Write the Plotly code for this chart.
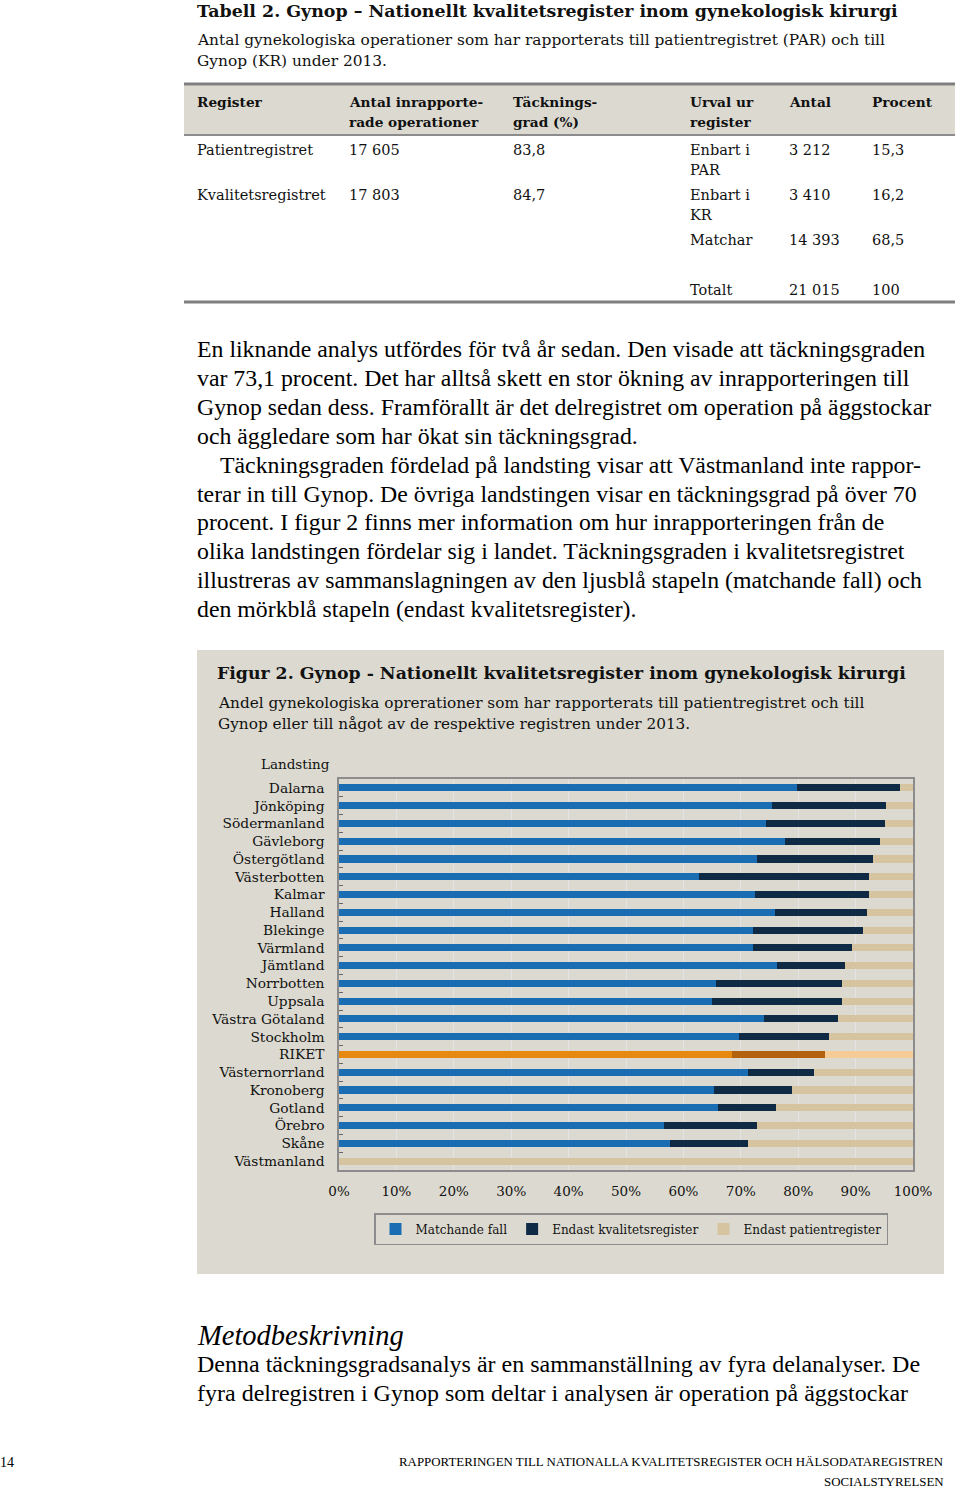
import plotly.graph_objects as go

W, H = 960, 1490

# ---------------- data ----------------
landsting = ["Dalarna", "Jönköping", "Södermanland", "Gävleborg", "Östergötland",
             "Västerbotten", "Kalmar", "Halland", "Blekinge", "Värmland", "Jämtland",
             "Norrbotten", "Uppsala", "Västra Götaland", "Stockholm", "RIKET",
             "Västernorrland", "Kronoberg", "Gotland", "Örebro", "Skåne", "Västmanland"]
matchande = [79.8, 75.5, 74.4, 77.7, 72.9, 62.8, 72.4, 76.0, 72.2, 72.2, 76.3,
             65.7, 65.0, 74.0, 69.6, 68.5, 71.2, 65.3, 66.0, 56.6, 57.6, 0.0]
endast_kr = [17.9, 19.8, 20.8, 16.6, 20.2, 29.5, 19.9, 15.9, 19.1, 17.1, 11.9,
             22.0, 22.7, 13.0, 15.8, 16.2, 11.6, 13.7, 10.2, 16.2, 13.7, 0.0]
endast_par = [2.3, 4.7, 4.8, 5.7, 6.9, 7.7, 7.7, 8.1, 8.7, 10.7, 11.8,
              12.3, 12.3, 13.0, 14.6, 15.3, 17.2, 21.0, 23.8, 27.2, 28.7, 100.0]
series_names = ["Matchande fall", "Endast kvalitetsregister", "Endast patientregister"]
x_ticks = [0, 10, 20, 30, 40, 50, 60, 70, 80, 90, 100]
x_tick_labels = ["0%", "10%", "20%", "30%", "40%", "50%", "60%", "70%", "80%", "90%", "100%"]

table_header = [["Register", ""], ["Antal inrapporte-", "rade operationer"], ["Täcknings-", "grad (%)"],
                ["Urval ur", "register"], ["Antal", ""], ["Procent", ""]]
table_rows = [
    ["Patientregistret", "17 605", "83,8", "Enbart i\nPAR", "3 212", "15,3"],
    ["Kvalitetsregistret", "17 803", "84,7", "Enbart i\nKR", "3 410", "16,2"],
    ["", "", "", "Matchar", "14 393", "68,5"],
    ["", "", "", "Totalt", "21 015", "100"],
]

para_lines = [
    "En liknande analys utfördes för två år sedan. Den visade att täckningsgraden",
    "var 73,1 procent. Det har alltså skett en stor ökning av inrapporteringen till",
    "Gynop sedan dess. Framförallt är det delregistret om operation på äggstockar",
    "och äggledare som har ökat sin täckningsgrad.",
    "Täckningsgraden fördelad på landsting visar att Västmanland inte rappor-",
    "terar in till Gynop. De övriga landstingen visar en täckningsgrad på över 70",
    "procent. I figur 2 finns mer information om hur inrapporteringen från de",
    "olika landstingen fördelar sig i landet. Täckningsgraden i kvalitetsregistret",
    "illustreras av sammanslagningen av den ljusblå stapeln (matchande fall) och",
    "den mörkblå stapeln (endast kvalitetsregister).",
]
metod_lines = [
    "Denna täckningsgradsanalys är en sammanställning av fyra delanalyser. De",
    "fyra delregistren i Gynop som deltar i analysen är operation på äggstockar",
]

# ---------------- styling ----------------
SERIF = "Liberation Serif"
WIDE = "DejaVu Serif"
c_blue, c_navy, c_tan = "#1a6db3", "#0e2a45", "#d5c49f"
c_orange, c_dorange, c_peach = "#e8890f", "#b5620f", "#f6cc96"
BEIGE = "#dcdad0"


def px(x):
    return x / W


def py(y):
    return 1 - y / H


def colors(base, riket):
    return [riket if c == "RIKET" else base for c in landsting]


fig = go.Figure()
for name, vals, base, rk in zip(series_names, [matchande, endast_kr, endast_par],
                                [c_blue, c_navy, c_tan], [c_orange, c_dorange, c_peach]):
    fig.add_trace(go.Bar(
        y=landsting, x=vals, name=name, orientation="h", width=0.4,
        marker=dict(color=colors(base, rk), line=dict(width=0)),
    ))

shapes = []
annos = []


def text(x, y, s, size=15, bold=False, italic=False, anchor="left", color="#111", family=WIDE):
    if bold:
        s = "<b>" + s + "</b>"
    if italic:
        s = "<i>" + s + "</i>"
    annos.append(dict(x=px(x), y=py(y), xref="paper", yref="paper", text=s, showarrow=False,
                      xanchor=anchor, yanchor="middle", borderpad=0, borderwidth=0,
                      font=dict(family=family, size=size, color=color)))


def rect(x0, y0, x1, y1, fill, line_color=None, lw=0, layer="below"):
    shapes.append(dict(type="rect", xref="paper", yref="paper", x0=px(x0), x1=px(x1),
                       y0=py(y1), y1=py(y0), fillcolor=fill, layer=layer,
                       line=dict(color=line_color or fill, width=lw)))


def hline(x0, x1, y, color, w):
    shapes.append(dict(type="line", xref="paper", yref="paper", x0=px(x0), x1=px(x1),
                       y0=py(y), y1=py(y), line=dict(color=color, width=w), layer="below"))


# ---------------- table ----------------
text(197, 11, "Tabell 2. Gynop – Nationellt kvalitetsregister inom gynekologisk kirurgi", size=17.4, bold=True)
text(197, 40, "Antal gynekologiska operationer som har rapporterats till patientregistret (PAR) och till", size=15.4)
text(197, 61, "Gynop (KR) under 2013.", size=15.4)

rect(184, 84, 955, 135, BEIGE)
hline(184, 955, 84, "#7f7f7f", 3)
hline(184, 955, 135, "#8c8c8c", 2)
hline(184, 955, 302, "#7f7f7f", 3)
col_x = [197, 349, 513, 690, 789, 872]
for cx, (l1, l2) in zip(col_x, table_header):
    text(cx, 102, l1, size=13.7, bold=True)
    if l2:
        text(cx, 122, l2, size=13.7, bold=True)
row_y = [150, 195, 240, 290]
for ry, row in zip(row_y, table_rows):
    for cx, cell in zip(col_x, row):
        if not cell:
            continue
        parts = cell.split("\n")
        for k, p in enumerate(parts):
            text(cx, ry + 20 * k, p, size=14.5)

# ---------------- paragraphs ----------------
for i, line in enumerate(para_lines):
    x0 = 220 if i == 4 else 197
    text(x0, 349 + 28.9 * i, line, size=23.8, color="#000", family=SERIF)

text(197, 1335, "Metodbeskrivning", size=28.5, italic=True, color="#000", family=SERIF)
for i, line in enumerate(metod_lines):
    text(197, 1364 + 29 * i, line, size=24, color="#000", family=SERIF)

text(0, 1462, "14", size=14, color="#000", family=SERIF)
text(944, 1462, "RAPPORTERINGEN TILL NATIONALLA KVALITETSREGISTER OCH HÄLSODATAREGISTREN", size=12.9,
     anchor="right", color="#000", family=SERIF)
text(944, 1482, "SOCIALSTYRELSEN", size=12.9, anchor="right", color="#000", family=SERIF)

# ---------------- figure box ----------------
rect(197, 650, 944, 1274, BEIGE)
text(217, 673, "Figur 2. Gynop - Nationellt kvalitetsregister inom gynekologisk kirurgi", size=17.3, bold=True)
text(218, 703, "Andel gynekologiska oprerationer som har rapporterats till patientregistret och till", size=15.3)
text(218, 724, "Gynop eller till något av de respektive registren under 2013.", size=15.3)
text(295, 764, "Landsting", size=13.5, anchor="center")

fig.update_layout(
    width=W, height=H,
    autosize=False,
    margin=dict(l=0, r=0, t=0, b=0, pad=0, autoexpand=False),
    paper_bgcolor="white",
    plot_bgcolor="white",
    barmode="stack",
    showlegend=True,
    legend=dict(orientation="h", x=px(631), y=py(1213), xanchor="center", yanchor="top",
                bgcolor=BEIGE, bordercolor="#8c8c8c", borderwidth=1.5,
                font=dict(family=WIDE, size=12, color="#111"),
                itemwidth=30, traceorder="normal"),
    xaxis=dict(domain=[px(339), px(913)], range=[0, 100], tickvals=x_ticks, ticktext=x_tick_labels,
               showgrid=True, gridcolor="#e4e4e4", gridwidth=1, zeroline=False,
               showline=True, linecolor="#8c8c8c", linewidth=1.5, mirror=True,
               ticks="", tickfont=dict(family=WIDE, size=13.5, color="#111"),
               ticklabelstandoff=8),
    yaxis=dict(domain=[py(1170), py(779)], autorange="reversed", type="category",
               showgrid=False, showline=True, linecolor="#8c8c8c", linewidth=1.5, mirror=True,
               ticks="inside", tickson="boundaries", ticklen=4, tickcolor="#666",
               tickfont=dict(family=WIDE, size=13.8, color="#111"), ticklabelstandoff=10),
    shapes=shapes,
    annotations=annos,
    bargap=0.6,
)

fig.write_html(
    "out.html",
    config={"responsive": False, "displayModeBar": False},
    post_script="document.body.style.margin='0';document.body.style.overflow='hidden';",
)
